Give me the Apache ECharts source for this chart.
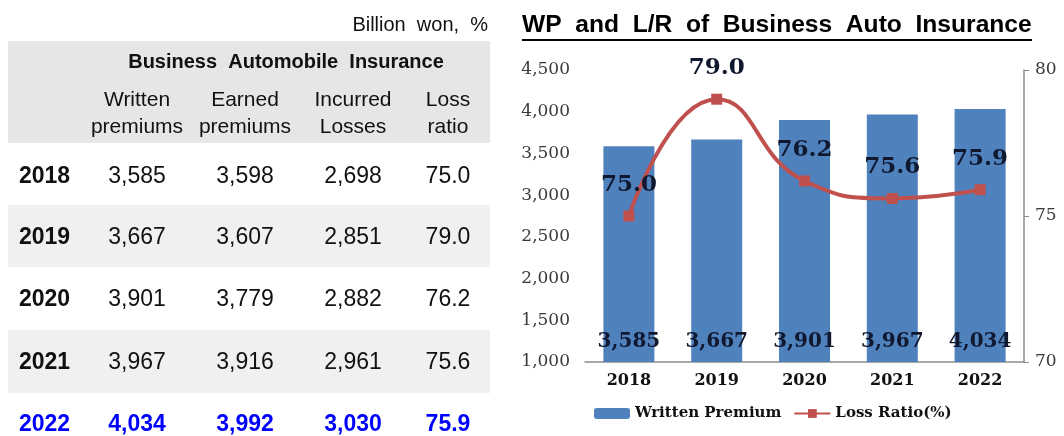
<!DOCTYPE html>
<html>
<head>
<meta charset="UTF-8">
<title>WP and L/R of Business Auto Insurance</title>
<script src="https://cdn.jsdelivr.net/npm/echarts@6/dist/echarts.min.js"></script>
<style>
  html, body { margin: 0; padding: 0; background: #fff; overflow: hidden; }
  #main { width: 1064px; height: 436px; }
</style>
</head>
<body>
<div id="main"></div>
<script>
// table + chart data (billion won, %)
var years = ['2018', '2019', '2020', '2021', '2022'];
var writtenPremiums = [3585, 3667, 3901, 3967, 4034];
var earnedPremiums = [3598, 3607, 3779, 3916, 3992];
var incurredLosses = [2698, 2851, 2882, 2961, 3030];
var lossRatios = [75.0, 79.0, 76.2, 75.6, 75.9];
var columnHeads = [['Written', 'premiums'], ['Earned', 'premiums'], ['Incurred', 'Losses'], ['Loss', 'ratio']];
var leftTicks = { min: 1000, max: 4500, interval: 500 };
var rightTicks = { min: 70, max: 80, interval: 5 };

function fmt(v) { return v.toLocaleString('en-US'); }

var sans = 'Liberation Sans, Arial, sans-serif';
var serif = 'DejaVu Serif, serif';

// --- left table drawn with graphic elements ---
var colX = [137, 245, 353, 448];
var rowY = [177, 238, 300, 363, 425];
var g = [];
g.push({ type: 'rect', shape: { x: 8, y: 41, width: 482, height: 102 }, style: { fill: '#e6e6e6' }, z: 0 });
g.push({ type: 'rect', shape: { x: 8, y: 205, width: 482, height: 62 }, style: { fill: '#f0f0f0' }, z: 0 });
g.push({ type: 'rect', shape: { x: 8, y: 330, width: 482, height: 63 }, style: { fill: '#f0f0f0' }, z: 0 });
g.push({ type: 'text', x: 488, y: 25, z: 1, style: { text: 'Billion  won,  %', font: '20px ' + sans, fill: '#111', align: 'right', verticalAlign: 'middle' } });
g.push({ type: 'text', x: 286, y: 62, z: 1, style: { text: 'Business  Automobile  Insurance', font: 'bold 20px ' + sans, fill: '#111', align: 'center', verticalAlign: 'middle' } });
columnHeads.forEach(function (h, i) {
  g.push({ type: 'text', x: colX[i], y: 100, z: 1, style: { text: h[0], font: '21px ' + sans, fill: '#111', align: 'center', verticalAlign: 'middle' } });
  g.push({ type: 'text', x: colX[i], y: 127, z: 1, style: { text: h[1], font: '21px ' + sans, fill: '#111', align: 'center', verticalAlign: 'middle' } });
});
years.forEach(function (y, r) {
  var last = r === years.length - 1;
  var color = last ? '#0000ff' : '#111';
  var w = last ? 'bold ' : '';
  var cells = [fmt(writtenPremiums[r]), fmt(earnedPremiums[r]), fmt(incurredLosses[r]), lossRatios[r].toFixed(1)];
  g.push({ type: 'text', x: 19, y: rowY[r], z: 1, style: { text: y, font: 'bold 23px ' + sans, fill: color, align: 'left', verticalAlign: 'middle' } });
  cells.forEach(function (c, i) {
    g.push({ type: 'text', x: colX[i], y: rowY[r], z: 1, style: { text: c, font: w + '23px ' + sans, fill: color, align: 'center', verticalAlign: 'middle' } });
  });
});

// chart title with underline
g.push({ type: 'text', x: 522, y: 25, z: 1, style: { text: 'WP  and  L/R  of  Business  Auto  Insurance', font: 'bold 24.6px ' + sans, fill: '#000', align: 'left', verticalAlign: 'middle' } });
g.push({ type: 'line', shape: { x1: 522, y1: 40, x2: 1032, y2: 40 }, style: { stroke: '#000', lineWidth: 2 }, z: 1 });

var myChart = echarts.init(document.getElementById('main'));

var option = {
  animation: false,
  graphic: g,
  grid: { left: 585, right: 40, top: 70, bottom: 74 },
  legend: {
    bottom: 10,
    left: 589,
    itemWidth: 36,
    itemHeight: 11,
    itemGap: 12,
    textStyle: { fontFamily: serif, fontWeight: 'bold', fontSize: 15, color: '#111' },
    data: ['Written Premium', 'Loss Ratio(%)']
  },
  xAxis: {
    type: 'category',
    data: years,
    axisLine: { lineStyle: { color: '#8c8c8c', width: 1.5 } },
    axisTick: { show: false },
    axisLabel: { fontFamily: serif, fontWeight: 'bold', fontSize: 16, color: '#111', margin: 11 }
  },
  yAxis: [{
    type: 'value',
    min: leftTicks.min, max: leftTicks.max, interval: leftTicks.interval,
    axisLine: { show: false },
    axisTick: { show: false },
    splitLine: { show: false },
    axisLabel: { fontFamily: serif, fontSize: 17, color: '#3a3a3a', margin: 15, formatter: function (v) { return fmt(v); } }
  }, {
    type: 'value',
    position: 'right',
    min: rightTicks.min, max: rightTicks.max, interval: rightTicks.interval,
    axisLine: { show: true, lineStyle: { color: '#8c8c8c', width: 1.5 } },
    axisTick: { show: true, length: 5, lineStyle: { color: '#8c8c8c' } },
    splitLine: { show: false },
    axisLabel: { fontFamily: serif, fontSize: 17, color: '#3a3a3a', margin: 11 }
  }],
  series: [{
    name: 'Written Premium',
    type: 'bar',
    data: writtenPremiums,
    barWidth: 51,
    itemStyle: { color: '#4f81bd' },
    label: {
      show: true, position: 'insideBottom', distance: 10,
      fontFamily: serif, fontWeight: 'bold', fontSize: 20, color: '#101830',
      formatter: function (p) { return fmt(p.value); }
    }
  }, {
    name: 'Loss Ratio(%)',
    type: 'line',
    yAxisIndex: 1,
    data: lossRatios,
    smooth: true,
    symbol: 'rect',
    symbolSize: 11,
    lineStyle: { color: '#c0504d', width: 4 },
    itemStyle: { color: '#c0504d' },
    label: {
      show: true, position: 'top', distance: 14,
      fontFamily: serif, fontWeight: 'bold', fontSize: 23, color: '#101830',
      formatter: function (p) { return p.value.toFixed(1); }
    }
  }]
};

myChart.setOption(option);
</script>
</body>
</html>
